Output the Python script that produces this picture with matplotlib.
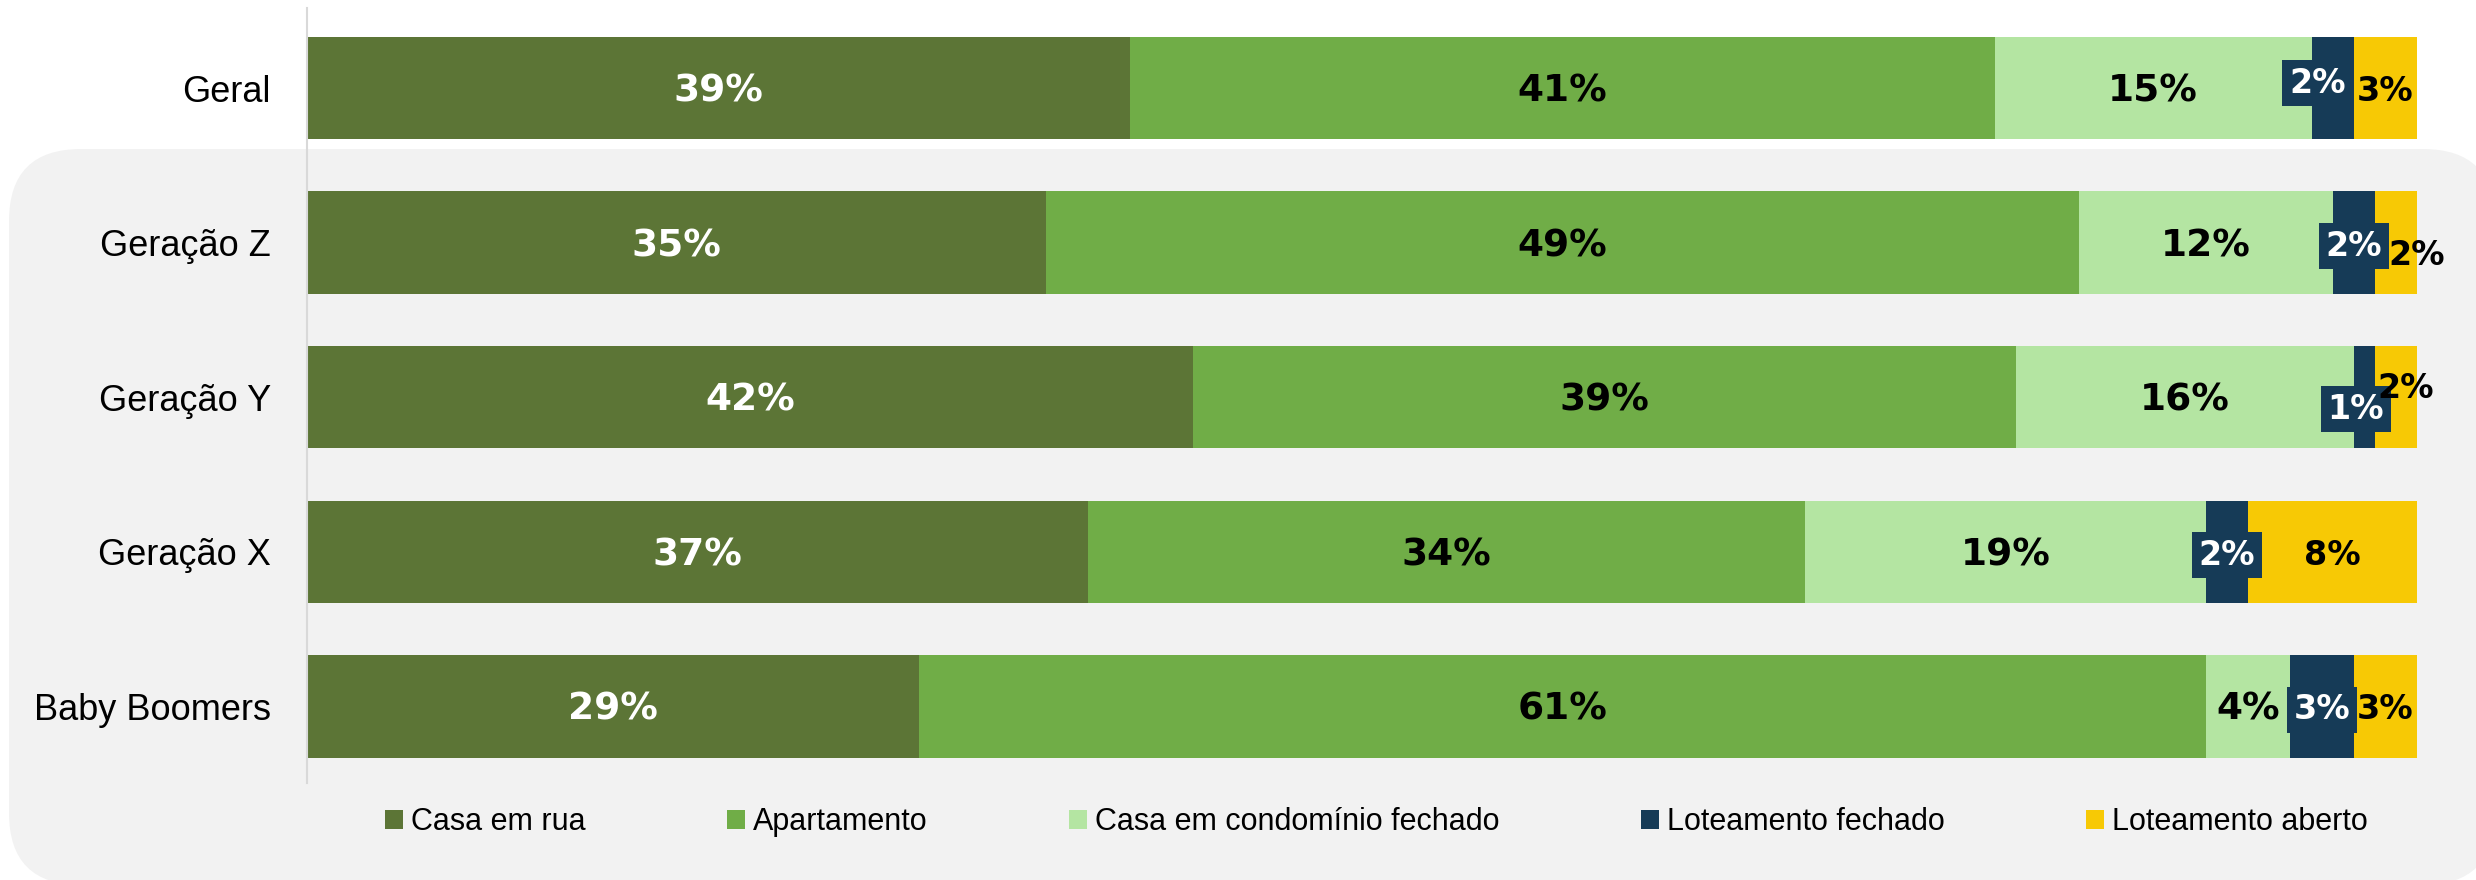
import matplotlib
matplotlib.use("Agg")
import matplotlib.pyplot as plt
from matplotlib.patches import FancyBboxPatch, Patch
from matplotlib.transforms import IdentityTransform

# Survey: preferred type of housing, overall and by generation (%)
groups = ["Geral", "Geração Z", "Geração Y", "Geração X", "Baby Boomers"]
series = ["Casa em rua", "Apartamento", "Casa em condomínio fechado",
          "Loteamento fechado", "Loteamento aberto"]
casa_em_rua = [39, 35, 42, 37, 29]
apartamento = [41, 49, 39, 34, 61]
casa_condominio = [15, 12, 16, 19, 4]
loteamento_fechado = [2, 2, 1, 2, 3]
loteamento_aberto = [3, 2, 2, 8, 3]

values = [casa_em_rua, apartamento, casa_condominio,
          loteamento_fechado, loteamento_aberto]
colors = ["#5C7536", "#70AD47", "#B4E5A2", "#163B57", "#F7C905"]
label_colors = ["white", "black", "black", "white", "black"]
label_sizes = [27, 27, 27, 24, 24]

# small nudges (points) so crowded labels do not collide
nudges = {(0, 3): (-11, 6), (1, 4): (15, -7), (2, 3): (-6, -6), (2, 4): (7, 9)}
base_dy = -2.5  # puts the digits' visual centre on the bar centre

plt.rcParams["font.family"] = ["Liberation Sans", "DejaVu Sans"]

W, H = 2476, 880
fig = plt.figure(figsize=(W / 100, H / 100), dpi=100, facecolor="white")

# rounded grey panel behind the generation rows
panel = FancyBboxPatch((9, -5), 2495 - 9, 736,
                       boxstyle="round,pad=0,rounding_size=72",
                       transform=IdentityTransform(), facecolor="#F2F2F2",
                       edgecolor="none", zorder=-1)
fig.patches.append(panel)

ax = fig.add_axes([307 / W, 97 / H, 2110 / W, 775 / H])
ax.patch.set_alpha(0)

ypos = list(range(len(groups)))
left = [0] * len(groups)
for s, (vals, col) in enumerate(zip(values, colors)):
    ax.barh(ypos, vals, left=left, height=0.663, color=col,
            edgecolor="none", label=series[s])
    for i, v in enumerate(vals):
        dx, dy = nudges.get((i, s), (0, 0))
        kw = {}
        if s == 3:
            kw["bbox"] = dict(boxstyle="square,pad=0.2", facecolor=col,
                              edgecolor="none")
        ax.annotate(f"{v}%", xy=(left[i] + v / 2, i), xytext=(dx, dy + base_dy),
                    textcoords="offset points", ha="center", va="center",
                    fontsize=label_sizes[s], fontweight="bold",
                    color=label_colors[s], family="DejaVu Sans", **kw)
    left = [l + v for l, v in zip(left, vals)]

ax.set_xlim(0, 100)
ax.set_ylim(4.495, -0.5175)
ax.set_yticks(ypos)
ax.set_yticklabels(groups, fontsize=26)
ax.tick_params(axis="y", length=0, pad=26)
ax.set_xticks([])
for side in ["top", "right", "bottom"]:
    ax.spines[side].set_visible(False)
ax.spines["left"].set_color("#D9D9D9")
ax.spines["left"].set_linewidth(1.5)

handles = [Patch(facecolor=c, edgecolor="none") for c in colors]
fig.legend(handles, series, loc="center", bbox_to_anchor=(1376.5 / W, 58 / H),
           ncol=5, frameon=False, fontsize=22, handlelength=0.59,
           handleheight=0.59, handletextpad=0.25, columnspacing=4.64,
           borderpad=0, borderaxespad=0)

fig.savefig("out.png", dpi=100, facecolor="white")
